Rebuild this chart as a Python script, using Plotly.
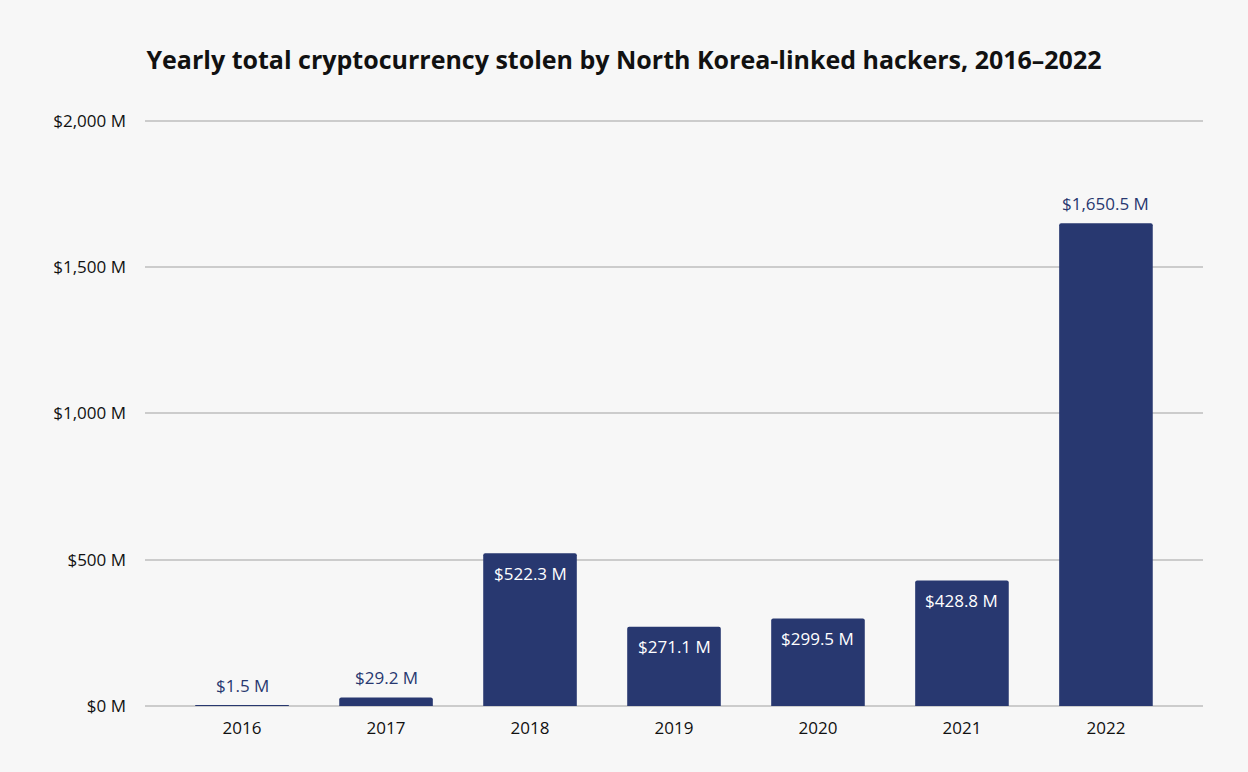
import plotly.graph_objects as go

years = ["2016", "2017", "2018", "2019", "2020", "2021", "2022"]
stolen_m = [1.5, 29.2, 522.3, 271.1, 299.5, 428.8, 1650.5]
labels = ["$1.5 M", "$29.2 M", "$522.3 M", "$271.1 M", "$299.5 M", "$428.8 M", "$1,650.5 M"]
label_inside = [False, False, True, True, True, True, False]
tick_vals = [0, 500, 1000, 1500, 2000]
tick_text = ["$0 M", "$500 M", "$1,000 M", "$1,500 M", "$2,000 M"]

NAVY = "#283870"
FONT = "Open Sans"

fig = go.Figure(go.Bar(
    x=years, y=stolen_m,
    marker=dict(color=NAVY, line=dict(width=0)),
    width=0.65,
    hoverinfo="skip",
))

for i, (val, lab, inside) in enumerate(zip(stolen_m, labels, label_inside)):
    fig.add_annotation(
        x=i, y=val, xref="x", yref="y", text=lab, showarrow=False,
        xanchor="center", yanchor="middle",
        yshift=-20 if inside else 20,
        font=dict(size=17, family=FONT, color="white" if inside else NAVY),
    )

fig.update_layout(
    width=1248, height=772,
    paper_bgcolor="#f7f7f7", plot_bgcolor="#f7f7f7",
    margin=dict(l=145, r=45, t=118, b=66),
    barcornerradius=2,
    font=dict(family=FONT, color="#111111"),
    title=dict(text="<b>Yearly total cryptocurrency stolen by North Korea-linked hackers, 2016–2022</b>",
               x=0.5, xanchor="center", y=0.922, yanchor="middle",
               font=dict(size=25, color="#111111", family=FONT)),
    showlegend=False,
    xaxis=dict(type="category", range=[-0.674, 6.674], showgrid=False, showline=False,
               ticks="", ticklabelstandoff=10,
               tickfont=dict(size=17, color="#111111"), fixedrange=True),
    yaxis=dict(range=[0, 2010], tickvals=tick_vals, ticktext=tick_text,
               showgrid=True, gridcolor="#cccccc", gridwidth=1.5,
               zeroline=True, zerolinecolor="#cccccc", zerolinewidth=1.5,
               showline=False, ticks="", ticklabelstandoff=18,
               tickfont=dict(size=17, color="#111111"), fixedrange=True),
)

fig.write_html("out.html", config={"displayModeBar": False},
               post_script="document.body.style.margin='0';")
